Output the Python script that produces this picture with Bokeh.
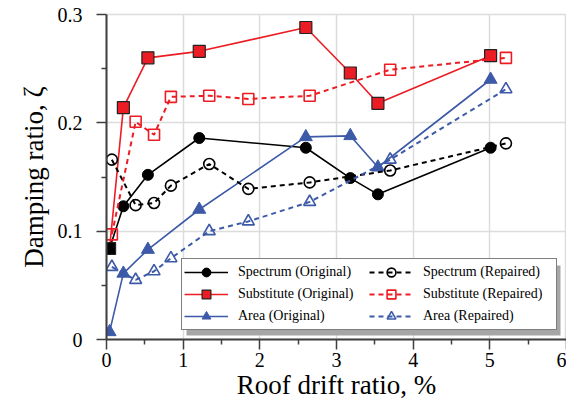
from bokeh.plotting import figure
from bokeh.models import Legend, LegendItem, FixedTicker, BoxAnnotation, Range1d
from bokeh.embed import file_html
from bokeh.resources import INLINE

# ---- data ----
x_orig = [0.04, 0.22, 0.54, 1.21, 2.60, 3.18, 3.54, 5.01]
spectrum_orig = [0.084, 0.123, 0.152, 0.186, 0.177, 0.149, 0.134, 0.177]
substitute_orig = [0.084, 0.214, 0.260, 0.266, 0.288, 0.246, 0.218, 0.262]
area_orig = [0.007, 0.061, 0.083, 0.120, 0.187, 0.188, 0.159, 0.240]

x_rep = [0.07, 0.38, 0.62, 0.84, 1.34, 1.85, 2.65, 3.70, 5.21]
spectrum_rep = [0.166, 0.124, 0.126, 0.142, 0.162, 0.139, 0.145, 0.156, 0.181]
substitute_rep = [0.097, 0.201, 0.189, 0.224, 0.225, 0.222, 0.225, 0.249, 0.260]
area_rep = [0.067, 0.055, 0.063, 0.075, 0.100, 0.109, 0.127, 0.166, 0.231]

x_ticks = [0, 1, 2, 3, 4, 5, 6]
y_ticks = [0, 0.1, 0.2, 0.3]
y_tick_labels = {0: "0", 0.1: "0.1", 0.2: "0.2", 0.3: "0.3"}

labels = ["Spectrum (Original)", "Substitute (Original)", "Area (Original)",
          "Spectrum (Repaired)", "Substitute (Repaired)", "Area (Repaired)"]

RED = "#EC1C24"
BLUE = "#3D5AA8"
BLACK = "#000000"
GRID = "#DCDCDC"
FONT = "Liberation Serif"

W, H = 566, 404
BL, BR, BT, BB = 106, 0, 14, 65
FW, FH = W - BL - BR, H - BT - BB

p = figure(width=W, height=H,
           x_range=Range1d(0, 6), y_range=Range1d(0, 0.3),
           output_backend="svg", toolbar_location=None,
           min_border_left=BL, min_border_right=BR, min_border_top=BT, min_border_bottom=BB)

p.background_fill_color = "white"
p.border_fill_color = "white"
p.outline_line_color = GRID
p.outline_line_width = 1.5

# axes
for ax in (p.xaxis[0], p.yaxis[0]):
    ax.axis_line_color = "#3F3F3F"
    ax.axis_line_width = 2
    ax.major_tick_line_color = "#3F3F3F"
    ax.minor_tick_line_color = "#3F3F3F"
    ax.major_tick_line_width = 1.5
    ax.minor_tick_line_width = 1.5
    ax.major_tick_out = 10
    ax.major_tick_in = 0
    ax.minor_tick_out = 5
    ax.minor_tick_in = 0
    ax.major_label_text_font = FONT
    ax.major_label_text_font_size = "20px"
    ax.major_label_text_color = BLACK
    ax.axis_label_text_font = FONT
    ax.axis_label_text_font_size = "27px"
    ax.axis_label_text_font_style = "normal"
    ax.axis_label_text_color = BLACK

p.xaxis.ticker = FixedTicker(ticks=x_ticks,
                             minor_ticks=[(a + b) / 2 for a, b in zip(x_ticks[:-1], x_ticks[1:])])
p.yaxis.ticker = FixedTicker(ticks=y_ticks,
                             minor_ticks=[(a + b) / 2 for a, b in zip(y_ticks[:-1], y_ticks[1:])])
p.yaxis.major_label_overrides = y_tick_labels
p.xaxis.axis_label = "Roof drift ratio, %"
p.yaxis.axis_label = "Damping ratio, ζ"
p.xaxis.major_label_standoff = 3
p.xaxis.axis_label_standoff = 0
p.yaxis.major_label_standoff = 14
p.yaxis.axis_label_standoff = 6

p.xgrid.grid_line_color = GRID
p.ygrid.grid_line_color = GRID
p.xgrid.grid_line_width = 1.5
p.ygrid.grid_line_width = 1.5

# legend geometry (screen px, relative to frame)
LEG_X, LEG_Y = 75, 9
PAD, GW, GH, LW, STAND, SP = 2, 44, 22, 131, 10, 0
leg_w = 2 * PAD + 2 * (GW + STAND + LW) + SP
leg_h = 2 * PAD + 3 * GH + 2 * SP
OFF = 5
shadow = BoxAnnotation(left=(LEG_X + OFF) / FW * 6, right=(LEG_X + leg_w + OFF) / FW * 6,
                       bottom=(LEG_Y - OFF) / FH * 0.3, top=(LEG_Y + leg_h - OFF) / FH * 0.3,
                       fill_color="#A6A6A6", fill_alpha=1, line_color=None, level="underlay")
p.add_layout(shadow)

sub_fill = [BLACK] + [RED] * (len(substitute_orig) - 1)

# original series
l1 = p.line(x_orig, spectrum_orig, line_color=BLACK, line_width=1.6)
s1 = p.scatter(x_orig, spectrum_orig, marker="circle", size=11, fill_color=BLACK, line_color=BLACK)
l2 = p.line(x_orig, substitute_orig, line_color=RED, line_width=1.6)
s2 = p.scatter(x_orig, substitute_orig, marker="square", size=12, fill_color=sub_fill,
               line_color="#222222", line_width=1.2)
l3 = p.line(x_orig, area_orig, line_color=BLUE, line_width=1.6)
s3 = p.scatter(x_orig, area_orig, marker="triangle", size=13, fill_color=BLUE, line_color=BLUE)

# repaired series
l4 = p.line(x_rep, spectrum_rep, line_color=BLACK, line_width=2, line_dash="5 4")
s4 = p.scatter(x_rep, spectrum_rep, marker="circle", size=11, fill_color=None,
               line_color=BLACK, line_width=1.6)
l5 = p.line(x_rep, substitute_rep, line_color=RED, line_width=2, line_dash="5 4")
s5 = p.scatter(x_rep, substitute_rep, marker="square", size=11, fill_color=None,
               line_color=RED, line_width=1.6)
l6 = p.line(x_rep, area_rep, line_color=BLUE, line_width=2, line_dash="5 4")
s6 = p.scatter(x_rep, area_rep, marker="triangle", size=12, fill_color=None,
               line_color=BLUE, line_width=1.6)

pairs = [(l1, s1), (l2, s2), (l3, s3), (l4, s4), (l5, s5), (l6, s6)]
items = [LegendItem(label=lab, renderers=[a, b], index=1) for lab, (a, b) in zip(labels, pairs)]

legend = Legend(items=items, location=(LEG_X, LEG_Y), ncols=2,
                glyph_width=GW, glyph_height=GH, label_height=GH, label_width=LW,
                label_standoff=STAND, spacing=SP, padding=PAD, margin=0,
                border_line_color=BLACK, border_line_width=1.5,
                background_fill_color="white", background_fill_alpha=1,
                label_text_font=FONT, label_text_font_size="14px", label_text_color=BLACK)
p.add_layout(legend, "center")

open("out.html", "w").write(file_html(p, INLINE))
